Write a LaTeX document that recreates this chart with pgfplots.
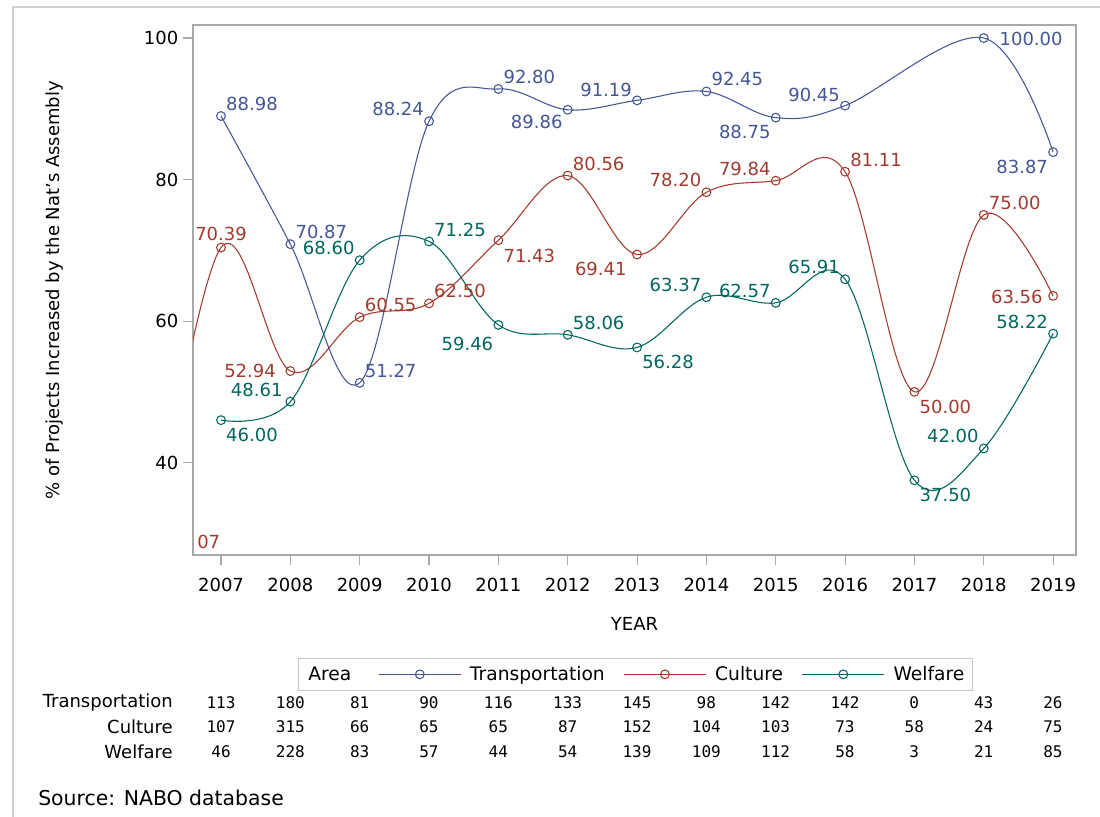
\documentclass[border=0pt]{standalone}
\usepackage{fontspec}
\setmainfont{DejaVu Sans}
\newfontfamily\monofont{DejaVu Sans Mono}
\usepackage{pgfplots}
\pgfplotsset{compat=1.18}
\definecolor{cT}{HTML}{445694}
\definecolor{cC}{HTML}{A23A2E}
\definecolor{cW}{HTML}{01665E}
\definecolor{axgray}{HTML}{A8A8A8}
\newcommand{\lab}{\fontsize{13.5}{16}\selectfont}
\newcommand{\mono}{\monofont\fontsize{12}{14}\selectfont}

\begin{document}
\begin{tikzpicture}
\useasboundingbox (0,0) rectangle (825pt,-612.75pt);
\begin{axis}[
  at={(144.75pt,-416.25pt)}, anchor=south west,
  scale only axis, width=662.25pt, height=397.5pt,
  xmin=2006.596, xmax=2019.33, ymin=26.94, ymax=101.84,
  xtick={2007,2008,...,2019}, ytick={40,60,80,100},
  xtick pos=bottom, ytick pos=left,
  tick align=outside, major tick length=7.5pt,
  axis line style={draw=axgray, line width=0.8pt},
  tick style={draw=axgray, line width=0.8pt},
  tick label style={font=\lab, /pgf/number format/assume math mode=true},
  xticklabel style={/pgf/number format/1000 sep={}, yshift=-6.5pt},
  xlabel={YEAR}, ylabel={\% of Projects Increased by the Nat's Assembly},
  label style={font=\lab},
  xlabel style={at={(axis description cs:0.5,-0.130)}, anchor=center},
  ylabel style={at={(axis description cs:-0.1563,0.5)}, anchor=center},
  every axis plot/.append style={line width=0.8pt},
  mark size=3.3pt,
  legend columns=-1,
  legend image code/.code={\draw[mark repeat=2,mark phase=2] plot coordinates {(0pt,0pt) (30.75pt,0pt) (61.5pt,0pt)};},
  legend style={at={(axis description cs:0.1189,-0.1943)}, anchor=north west,
    draw=gray!45, font=\fontsize{14}{16}\selectfont, inner ysep=4pt, inner xsep=1pt,
    /tikz/every odd column/.append style={column sep=4.5pt},
    /tikz/every even column/.append style={column sep=12pt}},
  lbl/.style={only marks, mark=o, forget plot,
    visualization depends on={value \thisrow{a} \as \lpos},
    visualization depends on={\thisrow{dx} \as \dx},
    visualization depends on={\thisrow{dy} \as \dy},
    nodes near coords={\pgfmathprintnumber[fixed,fixed zerofill,precision=2,assume math mode=true]{\pgfplotspointmeta}},
    every node near coord/.append style={anchor=\lpos, xshift=\dx pt, yshift=\dy pt, font=\lab, text=#1, inner sep=3.5pt}},
]
\addlegendimage{empty legend}
\addlegendentry{\makebox[38.5pt][l]{Area}}
\addlegendimage{cT, mark=o}
\addlegendentry{Transportation}
\addlegendimage{cC, mark=o}
\addlegendentry{Culture}
\addlegendimage{cW, mark=o}
\addlegendentry{\makebox[56pt][l]{Welfare}}

% Transportation (no value in 2017)
\addplot[cT, no marks, smooth, tension=0.6, forget plot] table[x=x,y=y] {
x y
2007 88.98
2008 70.87
2009 51.27
2010 88.24
2011 92.80
2012 89.86
2013 91.19
2014 92.45
2015 88.75
2016 90.45
2018 100.00
2019 83.87
};
% Culture (the 2006 point lies left of the window; its label shows as "07")
\addplot[cC, no marks, smooth, tension=0.6, forget plot] table[x=x,y=y] {
x y
2006 27.07
2007 70.39
2008 52.94
2009 60.55
2010 62.50
2011 71.43
2012 80.56
2013 69.41
2014 78.20
2015 79.84
2016 81.11
2017 50.00
2018 75.00
2019 63.56
};
% Welfare
\addplot[cW, no marks, smooth, tension=0.6, forget plot] table[x=x,y=y] {
x y
2007 46.00
2008 48.61
2009 68.60
2010 71.25
2011 59.46
2012 58.06
2013 56.28
2014 63.37
2015 62.57
2016 65.91
2017 37.50
2018 42.00
2019 58.22
};

\addplot[cT, lbl=cT] table[x=x,y=y,col sep=comma] {
x,y,a,dx,dy
2007,88.98,south west,0,0
2008,70.87,south west,0,0
2009,51.27,south west,0,0
2010,88.24,south east,0,0
2011,92.80,south west,0,0
2012,89.86,north east,0,0
2013,91.19,south east,0,-1
2014,92.45,south west,0,0
2015,88.75,north east,0,-2
2016,90.45,south east,0,-1
2018,100.00,west,8,-1
2019,83.87,north east,0,-2
};
\addplot[cC, lbl=cC] table[x=x,y=y,col sep=comma] {
x,y,a,dx,dy
2007,70.39,south,0,1
2008,52.94,east,-7,0
2009,60.55,south west,0,0
2010,62.50,south west,0,0
2011,71.43,north west,0,-3
2012,80.56,south west,0,0
2013,69.41,north east,-4,-2
2014,78.20,south east,0,0
2015,79.84,south east,0,0
2016,81.11,south west,0,0
2017,50.00,north west,0,-2
2018,75.00,south west,0,0
2019,63.56,east,-4,-1
};
\addplot[cW, lbl=cW] table[x=x,y=y,col sep=comma] {
x,y,a,dx,dy
2007,46.00,north west,0,-2
2008,48.61,south east,-2,0
2009,68.60,south east,0,0
2010,71.25,south west,0,0
2011,59.46,north east,0,-5
2012,58.06,south west,0,0
2013,56.28,north west,0,-2
2014,63.37,south east,0,0
2015,62.57,south east,0,0
2016,65.91,south east,0,0
2017,37.50,north west,0,-2
2018,42.00,south east,0,0
2019,58.22,south east,0,0
};
\end{axis}

\begin{scope}[x=0.75pt,y=-0.75pt]
  \draw[gray!35, line width=0.8pt] (13,817) -- (13,7) -- (1100,7);
  \node[anchor=west, inner sep=0pt, font=\lab, text=cC] at (197,542) {07};
  \node[anchor=east, inner sep=0pt, font=\lab] at (173,703) {Transportation};
  \node[anchor=east, inner sep=0pt, font=\lab] at (173,727) {Culture};
  \node[anchor=east, inner sep=0pt, font=\lab] at (173,752) {Welfare};
  \foreach \v [count=\i from 0] in {113,180,81,90,116,133,145,98,142,142,0,43,26}
    \node[inner sep=0pt, font=\mono] at (221+69.33*\i,703) {\v};
  \foreach \v [count=\i from 0] in {107,315,66,65,65,87,152,104,103,73,58,24,75}
    \node[inner sep=0pt, font=\mono] at (221+69.33*\i,727) {\v};
  \foreach \v [count=\i from 0] in {46,228,83,57,44,54,139,109,112,58,3,21,85}
    \node[inner sep=0pt, font=\mono] at (221+69.33*\i,752) {\v};
  \node[anchor=west, inner sep=0pt, font=\fontsize{15.3}{18}\selectfont] at (38,798) {Source: NABO database};
\end{scope}
\end{tikzpicture}
\end{document}
